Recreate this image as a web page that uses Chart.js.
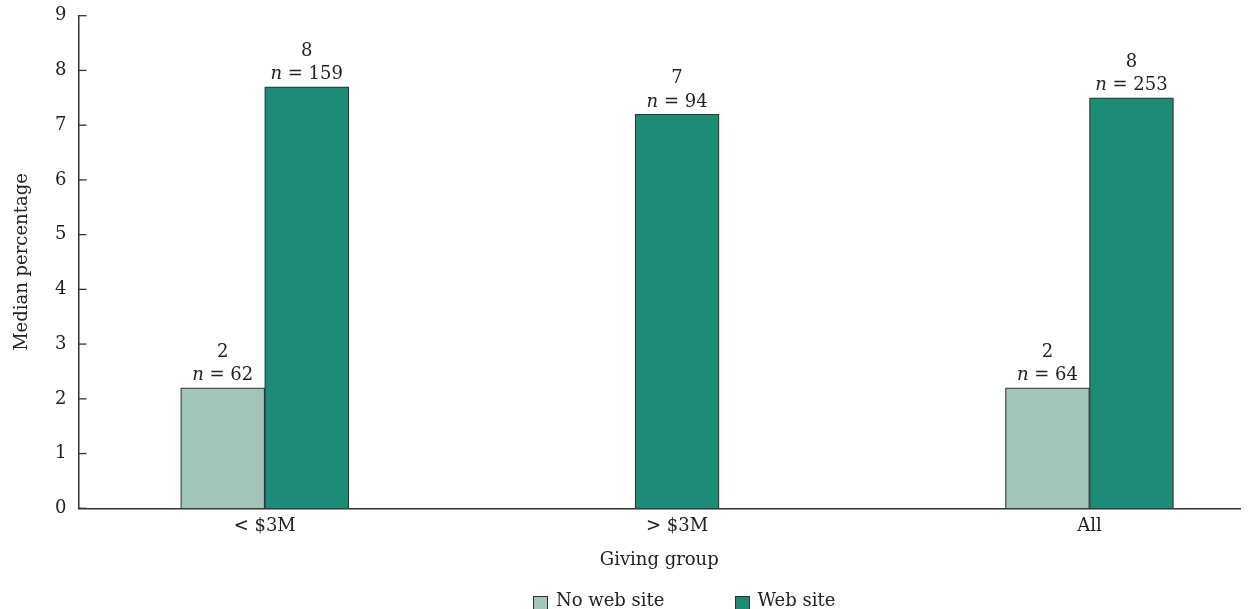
<!DOCTYPE html>
<html>
<head>
<meta charset="utf-8">
<script src="https://cdn.jsdelivr.net/npm/chart.js@4"></script>
<style>
  body { margin: 0; background: #fff; }
  #wrap { position: relative; width: 1248px; height: 609px; }
  #legend { position: absolute; left: 533px; top: 589px; display: flex; font: 18px "DejaVu Serif", serif; color: #222; line-height: 21px; }
  .item { display: flex; align-items: center; }
  .item + .item { margin-left: 70px; }
  .box { width: 13px; height: 13px; border: 1.3px solid #333; margin-right: 8px; position: relative; top: 4px; }
</style>
</head>
<body>
<div id="wrap">
  <canvas id="chart"></canvas>
  <div id="legend"></div>
</div>
<script>
// data
const groups = ['< $3M', '> $3M', 'All'];
const noWebSite = [2.2, null, 2.2];
const webSite = [7.7, 7.2, 7.5];
// printed labels above the bars
const noWebText = ['2', null, '2'];
const webText = ['8', '7', '8'];
const noWebN = [62, null, 64];
const webN = [159, 94, 253];

const FAMILY = '"DejaVu Serif", serif';
const FONT = '18px ' + FAMILY;
const TEXT = '#222';
const AXIS = '#333';

const valueText = [noWebText, webText];
const countText = [noWebN, webN];

// value + "n = .." over each bar
const barLabels = {
  id: 'barLabels',
  afterDatasetsDraw(chart) {
    const ctx = chart.ctx;
    ctx.save();
    ctx.fillStyle = TEXT;
    ctx.textBaseline = 'alphabetic';
    chart.data.datasets.forEach((ds, d) => {
      chart.getDatasetMeta(d).data.forEach((bar, i) => {
        if (valueText[d][i] == null) return;
        ctx.font = FONT;
        ctx.textAlign = 'center';
        ctx.fillText(valueText[d][i], bar.x, bar.y - 31);
        const rest = ' = ' + countText[d][i];
        ctx.font = 'italic ' + FONT;
        const wn = ctx.measureText('n').width;
        ctx.font = FONT;
        const wr = ctx.measureText(rest).width;
        const x0 = bar.x - (wn + wr) / 2;
        ctx.textAlign = 'left';
        ctx.font = 'italic ' + FONT;
        ctx.fillText('n', x0, bar.y - 7.5);
        ctx.font = FONT;
        ctx.fillText(rest, x0 + wn, bar.y - 7.5);
      });
    });
    ctx.restore();
  }
};

// y tick marks point into the plot
const innerTicks = {
  id: 'innerTicks',
  afterDraw(chart) {
    const { ctx, chartArea, scales: { y } } = chart;
    ctx.save();
    ctx.strokeStyle = AXIS;
    ctx.lineWidth = 1.3;
    y.ticks.forEach(t => {
      const py = y.getPixelForValue(t.value);
      ctx.beginPath();
      ctx.moveTo(chartArea.left, py);
      ctx.lineTo(chartArea.left + 8, py);
      ctx.stroke();
    });
    ctx.restore();
  }
};

const ctx = document.getElementById('chart').getContext('2d');
const chart = new Chart(ctx, {
  type: 'bar',
  data: {
    datasets: [{
      label: 'No web site',
      data: noWebSite.map((v, i) => ({ x: i, y: v })),
      backgroundColor: '#a0c6ba',
      borderColor: AXIS,
      borderWidth: 1.2,
      barThickness: 84,
      skipNull: true
    }, {
      label: 'Web site',
      data: webSite.map((v, i) => ({ x: i, y: v })),
      backgroundColor: '#1d8c76',
      borderColor: AXIS,
      borderWidth: 1.2,
      barThickness: 84,
      skipNull: true
    }]
  },
  options: {
    responsive: true,
    maintainAspectRatio: false,
    animation: false,
    layout: { padding: { top: 15.7, right: 8, bottom: 38.2, left: 0 } },
    plugins: {
      legend: { display: false },
      tooltip: { enabled: false }
    },
    scales: {
      x: {
        type: 'linear',
        offset: false,
        min: -0.4515,
        max: 2.365,
        grid: { display: false, drawTicks: false },
        border: { color: AXIS, width: 1.5 },
        ticks: {
          stepSize: 1,
          includeBounds: false,
          padding: 7,
          color: TEXT,
          font: { family: FAMILY, size: 18 },
          callback: v => groups[v] ?? ''
        },
        title: {
          display: true,
          text: 'Giving group',
          color: TEXT,
          font: { family: FAMILY, size: 18 },
          padding: { top: 12, bottom: 0 }
        },
        afterFit: s => { s.height = 62.5; }
      },
      y: {
        min: 0,
        max: 9,
        grid: { display: false, drawTicks: false },
        border: { color: AXIS, width: 1.5 },
        ticks: {
          stepSize: 1,
          padding: 12,
          color: TEXT,
          font: { family: FAMILY, size: 18 }
        },
        title: {
          display: true,
          text: 'Median percentage',
          color: TEXT,
          font: { family: FAMILY, size: 18 },
          padding: { top: 12, bottom: 0 }
        },
        afterFit: s => {
          s.width = 78.5;
          s.paddingTop = 0;
          s.paddingBottom = 0;
        }
      }
    }
  },
  plugins: [barLabels, innerTicks]
});

// legend below the axis title
const legend = document.getElementById('legend');
chart.data.datasets.forEach(ds => {
  const item = document.createElement('div');
  item.className = 'item';
  const box = document.createElement('span');
  box.className = 'box';
  box.style.background = ds.backgroundColor;
  item.appendChild(box);
  item.appendChild(document.createTextNode(ds.label));
  legend.appendChild(item);
});
</script>
</body>
</html>
